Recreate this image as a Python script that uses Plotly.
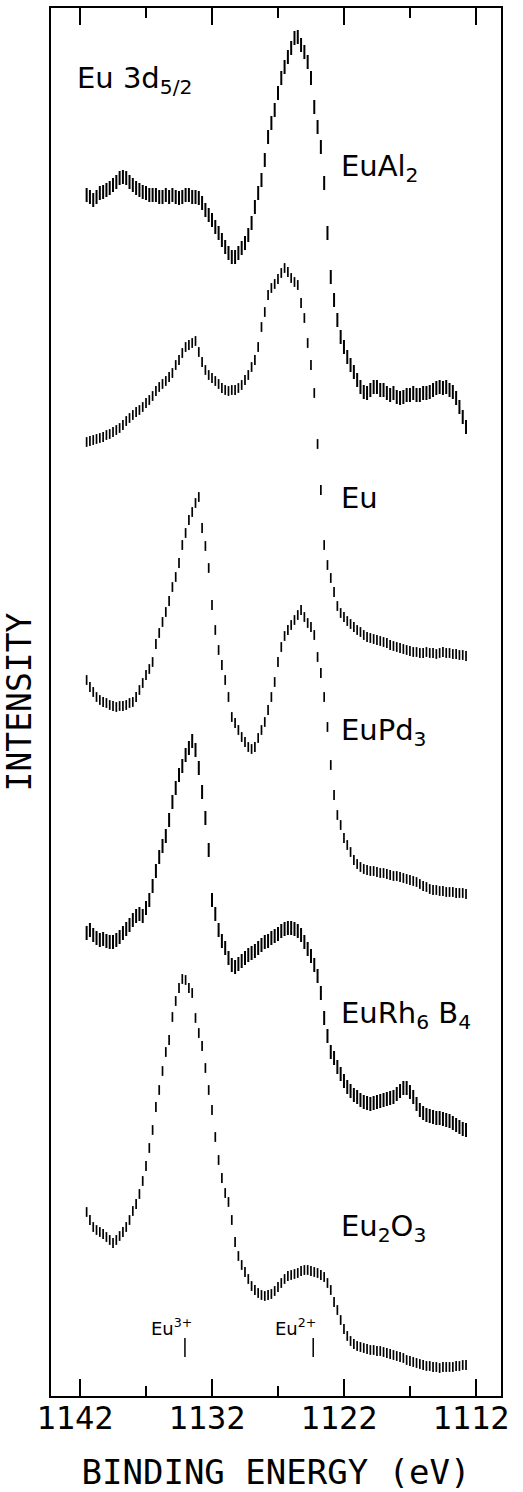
import plotly.graph_objects as go

# Binding energy grid (eV), 0.25 eV steps
energy_ev = [1141.5 - 0.25 * i for i in range(116)]

# Intensities (arbitrary units, stacked as in the figure)
eual2 = [1201, 1199, 1196, 1199, 1203, 1204, 1206, 1208, 1211, 1214,
         1218, 1219, 1218, 1214, 1211, 1208, 1206, 1204, 1203, 1201,
         1201, 1201, 1199, 1199, 1201, 1199, 1201, 1199, 1198, 1199,
         1201, 1201, 1199, 1199, 1198, 1193, 1186, 1181, 1176, 1169,
         1163, 1156, 1149, 1143, 1139, 1139, 1143, 1148, 1153, 1161,
         1173, 1189, 1203, 1216, 1236, 1259, 1273, 1286, 1303, 1318,
         1329, 1339, 1348, 1358, 1359, 1351, 1344, 1334, 1318, 1289,
         1269, 1249, 1213, 1163, 1119, 1096, 1076, 1059, 1049, 1039,
         1031, 1024, 1016, 1009, 1004, 1003, 1006, 1009, 1009, 1006,
         1006, 1003, 1001, 1003, 999, 998, 999, 1001, 1001, 1003,
         1001, 1001, 1003, 1003, 1004, 1006, 1008, 1009, 1008, 1009,
         1006, 1004, 998, 989, 979, 969]

eu = [954, 955, 956, 957, 958, 959, 961, 962, 964, 966,
      968, 971, 975, 978, 981, 984, 986, 989, 993, 996,
      1000, 1005, 1009, 1012, 1015, 1019, 1023, 1031, 1036, 1043,
      1049, 1051, 1053, 1055, 1044, 1034, 1026, 1021, 1018, 1015,
      1012, 1008, 1006, 1005, 1006, 1006, 1008, 1011, 1016, 1021,
      1029, 1036, 1049, 1069, 1084, 1101, 1108, 1112, 1117, 1123,
      1128, 1124, 1118, 1114, 1111, 1093, 1078, 1053, 1031, 1003,
      952, 906, 851, 831, 818, 804, 790, 783, 779, 775,
      772, 769, 766, 764, 761, 759, 758, 757, 756, 755,
      754, 753, 751, 750, 749, 748, 747, 746, 745, 744,
      744, 743, 743, 744, 743, 743, 742, 743, 744, 743,
      743, 742, 742, 741, 741, 740]

eupd3 = [716, 709, 704, 699, 696, 694, 693, 691, 690, 689,
         690, 690, 691, 693, 694, 699, 706, 713, 721, 727,
         734, 752, 763, 774, 784, 795, 809, 819, 833, 851,
         863, 876, 884, 893, 899, 868, 850, 828, 791, 766,
         746, 731, 716, 699, 679, 673, 666, 659, 654, 649,
         647, 649, 658, 666, 674, 686, 699, 714, 734, 749,
         760, 766, 771, 776, 781, 786, 779, 773, 769, 761,
         739, 723, 699, 669, 631, 601, 581, 571, 558, 551,
         544, 536, 532, 529, 527, 526, 525, 525, 524, 523,
         523, 522, 521, 520, 520, 519, 518, 517, 516, 515,
         514, 512, 510, 509, 507, 506, 506, 505, 505, 504,
         504, 504, 503, 503, 503, 502]

eurh6b4 = [463, 466, 461, 458, 456, 457, 455, 454, 454, 456,
           459, 463, 467, 471, 476, 480, 482, 480, 488, 496,
           510, 525, 539, 550, 560, 576, 594, 608, 621, 630,
           641, 648, 655, 646, 628, 604, 578, 546, 496, 482,
           466, 455, 448, 438, 431, 429, 432, 435, 438, 441,
           443, 445, 448, 451, 454, 455, 458, 460, 462, 465,
           467, 468, 468, 467, 465, 461, 454, 447, 440, 431,
           420, 403, 378, 360, 344, 338, 329, 322, 315, 309,
           305, 301, 299, 296, 294, 293, 292, 293, 294, 295,
           296, 297, 298, 299, 302, 305, 308, 308, 304, 299,
           292, 286, 283, 281, 280, 279, 278, 278, 277, 276,
           275, 273, 271, 269, 267, 266]

eu2o3 = [184, 176, 169, 166, 164, 162, 159, 156, 153, 156,
         160, 164, 169, 176, 185, 192, 202, 215, 230, 248,
         266, 289, 306, 325, 344, 356, 379, 395, 408, 417,
         416, 408, 403, 378, 363, 350, 328, 306, 286, 259,
         236, 218, 203, 194, 176, 154, 140, 131, 124, 117,
         110, 106, 103, 101, 100, 101, 102, 105, 109, 113,
         117, 120, 121, 122, 123, 125, 126, 126, 125, 124,
         123, 121, 119, 113, 106, 94, 86, 76, 67, 60,
         55, 52, 50, 49, 48, 47, 46, 46, 45, 45,
         44, 43, 42, 41, 40, 39, 38, 36, 35, 34,
         33, 32, 31, 30, 30, 29, 29, 28, 29, 29,
         29, 29, 30, 30, 31, 31]

series = [eual2, eu, eupd3, eurh6b4, eu2o3]
sample_labels = ["EuAl<sub>2</sub>", "Eu", "EuPd<sub>3</sub>",
                 "EuRh<sub>6</sub> B<sub>4</sub>", "Eu<sub>2</sub>O<sub>3</sub>"]
label_levels = [1228, 898, 664, 381, 168]
noisy = [True, False, False, True, False]

ion_labels = ["Eu<sup>3+</sup>", "Eu<sup>2+</sup>"]
ion_energies = [1134.05, 1124.33]
ion_text_energies = [1135.1, 1125.67]

x_ticks = [1142, 1132, 1122, 1112]
x_minor_ticks = [1137, 1127, 1117]

fig = go.Figure()
for vals, nz in zip(series, noisy):
    fig.add_trace(go.Scatter(
        x=energy_ev, y=vals, mode="markers", showlegend=False,
        marker=dict(symbol="line-ns", size=10 if nz else 7,
                    line=dict(width=2.0 if nz else 1.7, color="black"), color="black"),
        hoverinfo="skip"))

lab_font = dict(family="DejaVu Sans, sans-serif", size=29, color="black")
fig.add_annotation(x=1142.4, y=1316, xref="x", yref="y", text="Eu 3d<sub>5/2</sub>",
                   showarrow=False, xanchor="left", yanchor="middle", font=lab_font)
for lab, lev in zip(sample_labels, label_levels):
    fig.add_annotation(x=1122.4, y=lev, xref="x", yref="y", text=lab,
                       showarrow=False, xanchor="left", yanchor="middle", font=lab_font)

for lab, ex, et in zip(ion_labels, ion_energies, ion_text_energies):
    fig.add_annotation(x=et, y=69, xref="x", yref="y", text=lab, showarrow=False,
                       xanchor="center", yanchor="middle",
                       font=dict(family="DejaVu Sans, sans-serif", size=18, color="black"))
    fig.add_shape(type="line", xref="x", yref="y", x0=ex, x1=ex, y0=39, y1=58,
                  line=dict(color="black", width=1.5))

mono = "DejaVu Sans Mono, monospace"
fig.update_xaxes(
    range=[1144.2, 1110.1], tickmode="array", tickvals=x_ticks,
    ticktext=[str(t) for t in x_ticks],
    ticks="inside", ticklen=17, tickwidth=2, tickcolor="black",
    minor=dict(tickmode="array", tickvals=x_minor_ticks, ticks="inside",
               ticklen=10, tickwidth=2, tickcolor="black"),
    showline=True, linewidth=2, linecolor="black", mirror="ticks",
    showgrid=False, zeroline=False,
    tickfont=dict(family=mono, size=32, color="black"),
    ticklabelshift=5, ticklabelstandoff=-7,
    title=dict(text="BINDING ENERGY (eV)", font=dict(family=mono, size=34, color="black"),
               standoff=32),
)
fig.update_yaxes(
    range=[0, 1388], showticklabels=False, ticks="",
    showline=True, linewidth=2, linecolor="black", mirror=True,
    showgrid=False, zeroline=False,
    title=dict(text="INTENSITY", font=dict(family=mono, size=33, color="black"),
               standoff=7),
)
fig.update_layout(
    width=523, height=1492,
    margin=dict(l=51, r=22, t=8, b=96, autoexpand=False),
    plot_bgcolor="white", paper_bgcolor="white",
)
fig.write_html("out.html", config={"displayModeBar": False},
               post_script="document.body.style.margin='0';")
